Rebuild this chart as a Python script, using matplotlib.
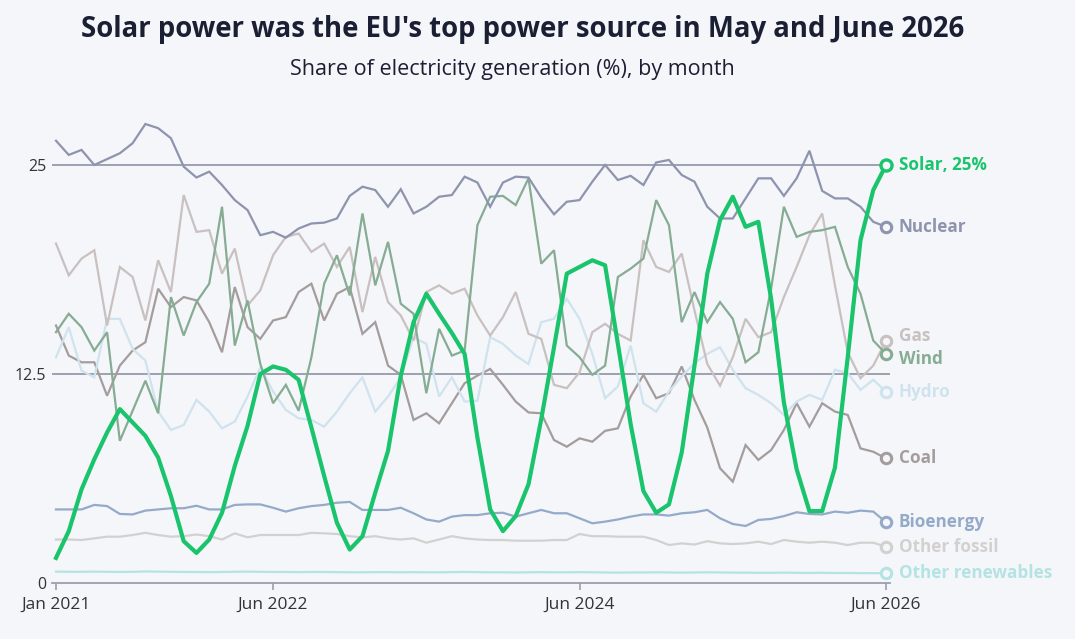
import matplotlib
matplotlib.use("Agg")
import matplotlib.pyplot as plt
import pandas as pd

months = pd.date_range("2021-01-01", "2026-06-01", freq="MS")
tick_labels = ["Jan 2021", "Jun 2022", "Jun 2024", "Jun 2026"]
tick_months = [0, 17, 41, 65]

solar = [1.5, 3.1, 5.6, 7.4, 9.0, 10.4, 9.6, 8.8, 7.5, 5.2,
         2.5, 1.8, 2.6, 4.2, 7.0, 9.4, 12.5, 12.95, 12.75, 12.15,
         9.3, 6.4, 3.6, 2.0, 2.8, 5.4, 7.9, 12.4, 15.6, 17.3,
         16.1, 14.95, 13.7, 8.7, 4.4, 3.1, 4.0, 5.9, 9.8, 14.1,
         18.5, 18.9, 19.3, 19.0, 14.3, 9.5, 5.5, 4.2, 4.7, 7.8,
         13.0, 18.5, 21.7, 23.1, 21.3, 21.6, 17.0, 10.8, 6.8, 4.3,
         4.3, 6.9, 13.5, 20.5, 23.5, 25.0]
nuclear = [26.45, 25.6, 25.9, 25.0, 25.35, 25.7, 26.3, 27.45, 27.2, 26.6,
           24.9, 24.25, 24.6, 23.8, 22.9, 22.3, 20.8, 21.0, 20.65, 21.2,
           21.5, 21.55, 21.8, 23.15, 23.7, 23.5, 22.5, 23.55, 22.1, 22.5,
           23.1, 23.2, 24.3, 23.95, 22.5, 23.95, 24.3, 24.25, 23.05, 22.05,
           22.8, 22.9, 24.0, 25.0, 24.1, 24.35, 23.8, 25.15, 25.3, 24.4,
           24.0, 22.5, 21.8, 21.8, 23.0, 24.2, 24.2, 23.15, 24.2, 25.85,
           23.45, 23.0, 23.0, 22.5, 21.6, 21.3]
gas = [20.3, 18.4, 19.4, 19.9, 15.4, 18.9, 18.3, 15.7, 19.3, 17.4,
       23.2, 21.0, 21.1, 18.5, 20.0, 16.6, 17.5, 19.6, 20.7, 20.9,
       19.8, 20.3, 18.9, 20.1, 16.2, 19.5, 16.8, 16.0, 14.5, 17.4,
       17.8, 17.3, 17.6, 16.0, 14.8, 15.9, 17.4, 14.9, 14.6, 11.85,
       11.65, 12.6, 15.0, 15.5, 14.9, 14.5, 20.5, 18.9, 18.6, 19.7,
       16.3, 13.1, 11.8, 13.5, 15.8, 14.7, 15.0, 17.1, 18.9, 20.8,
       22.1, 17.8, 13.8, 12.25, 13.0, 14.5]
wind = [15.0, 16.1, 15.3, 13.9, 15.0, 8.5, 10.3, 12.1, 10.15, 17.1,
        14.8, 16.8, 17.9, 22.5, 14.2, 16.9, 13.1, 10.75, 11.85, 10.3,
        13.5, 17.9, 19.6, 17.2, 22.1, 17.8, 20.4, 16.7, 16.1, 11.35,
        15.2, 13.6, 13.9, 21.4, 23.1, 23.15, 22.6, 24.2, 19.1, 19.9,
        14.2, 13.5, 12.45, 13.0, 18.3, 18.8, 19.4, 22.9, 21.4, 15.6,
        17.4, 15.6, 16.8, 15.8, 13.2, 13.8, 17.6, 22.5, 20.7, 21.0,
        21.1, 21.3, 18.9, 17.3, 14.5, 13.7]
hydro = [13.5, 15.3, 12.7, 12.3, 15.8, 15.8, 14.0, 13.3, 10.25, 9.15,
         9.45, 10.95, 10.25, 9.25, 9.65, 11.15, 12.9, 11.45, 10.35, 9.85,
         9.75, 9.35, 10.25, 11.35, 12.3, 10.25, 11.15, 12.3, 14.7, 14.3,
         11.15, 12.3, 10.85, 10.9, 14.7, 14.3, 13.6, 13.1, 15.6, 15.8,
         17.0, 15.8, 13.7, 11.05, 11.75, 14.2, 10.75, 10.25, 11.45, 12.35,
         13.15, 13.7, 14.1, 12.75, 11.65, 11.25, 10.75, 10.05, 10.85, 11.25,
         10.95, 12.75, 12.55, 11.55, 12.15, 11.45]
coal = [15.4, 13.6, 13.2, 13.2, 11.2, 13.0, 13.9, 14.4, 17.6, 16.5,
        17.1, 16.9, 15.6, 13.8, 17.7, 15.3, 14.6, 15.7, 15.9, 17.4,
        17.9, 15.7, 17.3, 17.7, 14.9, 15.6, 13.0, 12.45, 9.75, 10.15,
        9.55, 10.75, 11.95, 12.4, 12.8, 11.85, 10.85, 10.2, 10.15, 8.55,
        8.15, 8.65, 8.45, 9.1, 9.25, 11.15, 12.45, 11.05, 11.35, 12.95,
        10.95, 9.3, 6.86, 6.06, 8.25, 7.36, 7.95, 9.15, 10.75, 9.35,
        10.75, 10.25, 10.05, 8.05, 7.85, 7.45]
bioenergy = [4.4, 4.4, 4.4, 4.67, 4.6, 4.13, 4.1, 4.33, 4.4, 4.47,
             4.47, 4.62, 4.4, 4.4, 4.67, 4.7, 4.7, 4.5, 4.27, 4.47,
             4.6, 4.67, 4.8, 4.85, 4.37, 4.37, 4.37, 4.5, 4.17, 3.8,
             3.67, 3.97, 4.06, 4.06, 4.17, 4.2, 3.97, 4.17, 4.37, 4.17,
             4.17, 3.87, 3.57, 3.67, 3.8, 3.97, 4.1, 4.1, 4.03, 4.17,
             4.23, 4.37, 3.87, 3.53, 3.41, 3.77, 3.83, 4.0, 4.23, 4.13,
             4.1, 4.27, 4.2, 4.33, 4.27, 3.63]
other_fossil = [2.6, 2.6, 2.57, 2.67, 2.77, 2.77, 2.87, 3.0, 2.87, 2.77,
                2.8, 2.9, 2.8, 2.6, 2.97, 2.73, 2.87, 2.87, 2.87, 2.87,
                3.0, 2.97, 2.93, 2.8, 2.73, 2.8, 2.67, 2.6, 2.67, 2.41,
                2.6, 2.8, 2.67, 2.6, 2.57, 2.57, 2.53, 2.53, 2.53, 2.57,
                2.57, 2.93, 2.8, 2.8, 2.77, 2.77, 2.77, 2.57, 2.27, 2.37,
                2.3, 2.5, 2.37, 2.33, 2.37, 2.47, 2.33, 2.57, 2.47, 2.41,
                2.47, 2.41, 2.27, 2.41, 2.41, 2.17]
other_renewables = [0.68, 0.67, 0.67, 0.68, 0.67, 0.66, 0.67, 0.69, 0.68, 0.67,
                    0.66, 0.66, 0.65, 0.66, 0.67, 0.68, 0.67, 0.66, 0.66, 0.65,
                    0.66, 0.66, 0.65, 0.64, 0.64, 0.65, 0.65, 0.64, 0.65, 0.64,
                    0.64, 0.65, 0.66, 0.65, 0.64, 0.64, 0.63, 0.64, 0.65, 0.64,
                    0.64, 0.65, 0.64, 0.63, 0.62, 0.63, 0.63, 0.64, 0.63, 0.62,
                    0.63, 0.64, 0.63, 0.62, 0.62, 0.61, 0.61, 0.62, 0.61, 0.60,
                    0.61, 0.60, 0.60, 0.59, 0.59, 0.58]

series_names = ["Other renewables", "Other fossil", "Bioenergy", "Coal", "Hydro",
                "Gas", "Wind", "Nuclear", "Solar"]
series_values = [other_renewables, other_fossil, bioenergy, coal, hydro,
                 gas, wind, nuclear, solar]
series_colors = ["#b3e3e3", "#d3d0d0", "#94aac8", "#a59c9c", "#cfe3ee",
                 "#c9c0c0", "#86ac94", "#8d94ae", "#19c46c"]
label_dy = {"Gas": 3, "Wind": -4}

BG = "#f5f6fa"
plt.rcParams['font.family'] = ['Open Sans', 'DejaVu Sans']

fig = plt.figure(figsize=(10.75, 6.39), dpi=100, facecolor=BG)
ax = fig.add_axes([52 / 1075, 56 / 639, (890 - 52) / 1075, 468.2 / 639])
ax.set_facecolor(BG)

x = list(range(len(months)))
ax.set_xlim(-0.313, 65.31)
ax.set_ylim(0, 28)

for yv in [12.5, 25]:
    ax.axhline(yv, color="#959aac", lw=1.3, zorder=1)

for name, vals, col in zip(series_names, series_values, series_colors):
    solar_line = name == "Solar"
    ax.plot(x, vals, color=col, lw=3.0 if solar_line else 1.6,
            zorder=5 if solar_line else 3, solid_joinstyle="miter" if not solar_line else "round")
    ax.plot([x[-1]], [vals[-1]], marker="o", ms=8 if solar_line else 7.5,
            mfc=BG, mec=col, mew=2.4 if solar_line else 2.2, zorder=6, clip_on=False)
    label = f"{name}, {vals[-1]:.0f}%" if solar_line else name
    ax.annotate(label, (x[-1], vals[-1]), xytext=(9, label_dy.get(name, 0)),
                textcoords="offset points", va="center", ha="left",
                color=col, fontsize=12.3, fontweight="bold", annotation_clip=False)

for s in ["top", "right", "left"]:
    ax.spines[s].set_visible(False)
ax.spines["bottom"].set_color("#9a9fb0")
ax.spines["bottom"].set_linewidth(1.3)

ax.set_yticks([0, 12.5, 25])
ax.set_yticklabels(["0", "12.5", "25"])
ax.tick_params(axis="y", length=0, pad=4, labelsize=11.5, labelcolor="#333333")
ax.set_xticks(tick_months)
ax.set_xticklabels(tick_labels)
ax.tick_params(axis="x", length=5, width=1.2, color="#9a9fb0", pad=5,
               labelsize=12.5, labelcolor="#333333")

fig.text(523 / 1075, 1 - 29 / 639, "Solar power was the EU's top power source in May and June 2026",
         ha="center", va="center", fontsize=19.8, fontweight="bold", color="#1b1f33")
fig.text(512 / 1075, 1 - 70 / 639, "Share of electricity generation (%), by month",
         ha="center", va="center", fontsize=15.5, color="#1b1f33")

fig.savefig("out.png", dpi=100, facecolor=BG)
